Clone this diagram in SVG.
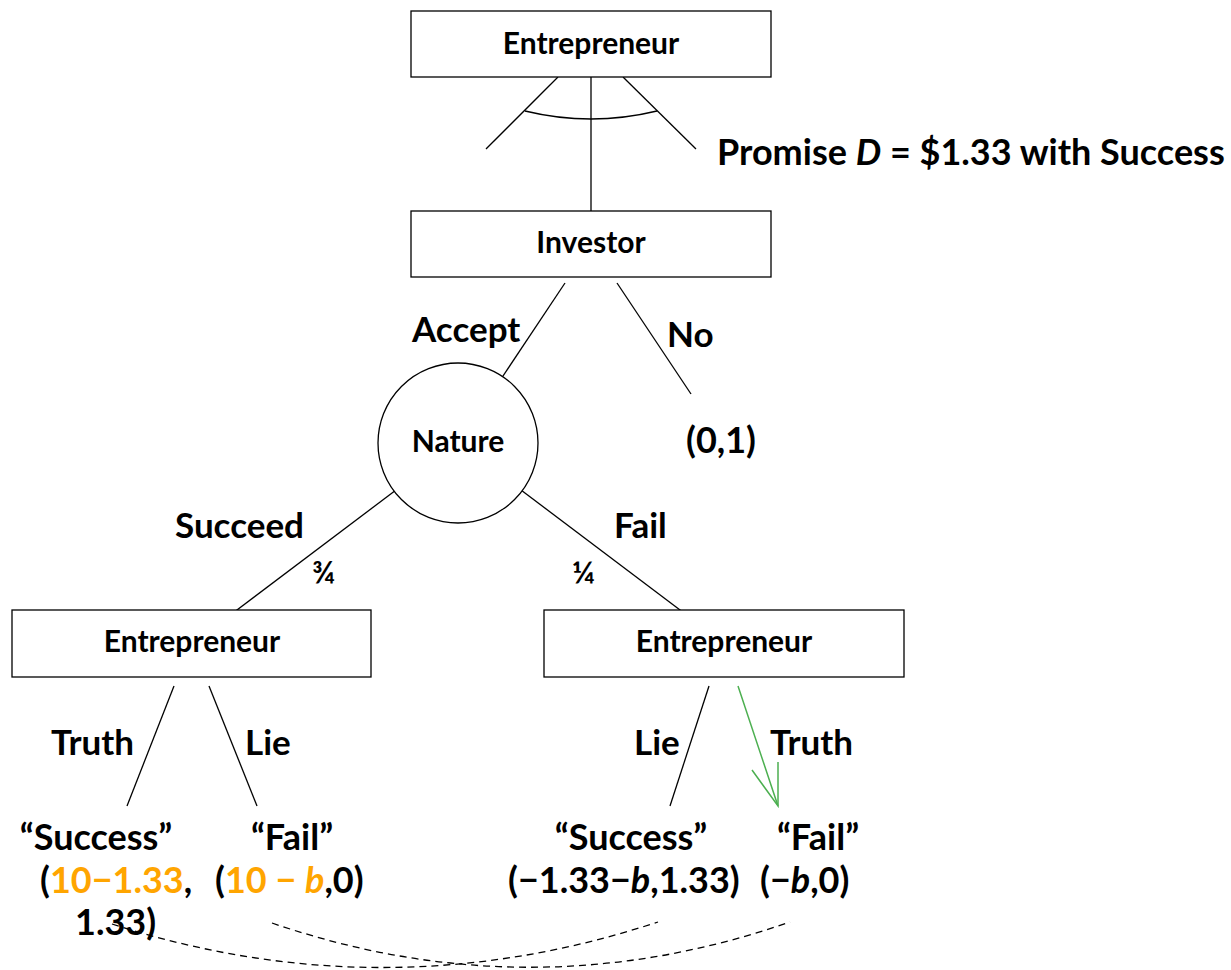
<svg xmlns="http://www.w3.org/2000/svg" width="1231" height="970" viewBox="0 0 1231 970">
<style>
text{font-family:Lato,"Open Sans","Liberation Sans",sans-serif;font-weight:bold;fill:#000}
.box{fill:#fff;stroke:#000;stroke-width:1.3}
.ln{stroke:#000;stroke-width:1.3;fill:none}
.dash{stroke:#000;stroke-width:1.3;fill:none;stroke-dasharray:7,5}
.n{font-size:30px;text-anchor:middle}
.lab{font-size:35px}
.pay{font-size:36px}
.or{fill:#FFA500}
.it{font-style:italic}
.gr{stroke:#4CAF50;stroke-width:1.5;fill:none}
</style>
<rect width="1231" height="970" fill="#fff"/>
<g id="connectors">
<line class="ln" x1="558" y1="77" x2="486" y2="149"/>
<line class="ln" x1="591" y1="77" x2="591" y2="211"/>
<line class="ln" x1="623" y1="77" x2="696" y2="149"/>
<path class="ln" d="M525 111 Q591 127 657 111"/>
<line class="ln" x1="565" y1="283" x2="499" y2="382"/>
<line class="ln" x1="617" y1="283" x2="691" y2="394"/>
<line class="ln" x1="400" y1="487" x2="229" y2="616"/>
<line class="ln" x1="517" y1="487" x2="688" y2="616"/>
<line class="ln" x1="174" y1="686" x2="127" y2="806"/>
<line class="ln" x1="209" y1="686" x2="257" y2="806"/>
<line class="ln" x1="709" y1="686" x2="670" y2="806"/>
<line class="gr" x1="738" y1="686" x2="778" y2="806"/>
<polyline class="gr" points="778,762 778,806 752,770"/>
<path class="dash" d="M112 924 Q385 1012 658 922"/>
<path class="dash" d="M272 923 Q531 1012 790 922"/>
</g>
<g id="n-entrepreneur-top">
<rect class="box" x="411" y="11" width="360" height="66"/>
<text class="n" x="591" y="54">Entrepreneur</text>
</g>
<g id="n-promise">
<text x="717" y="165" style="font-size:36px">Promise <tspan class="it">D</tspan> = $1.33 with Success</text>
</g>
<g id="n-investor">
<rect class="box" x="411" y="211" width="360" height="66"/>
<text class="n" x="591" y="253">Investor</text>
</g>
<g id="l-accept"><text class="lab" x="412" y="342">Accept</text></g>
<g id="l-no"><text class="lab" x="667" y="347">No</text></g>
<g id="n-nature">
<circle class="box" cx="458" cy="443" r="80"/>
<text class="n" x="458" y="452">Nature</text>
</g>
<g id="n-payoff-no"><text class="pay" x="686" y="453">(0,1)</text></g>
<g id="l-succeed"><text class="lab" x="175" y="538">Succeed</text></g>
<g id="l-fail"><text class="lab" x="614" y="538">Fail</text></g>
<g id="l-p34"><text x="312" y="583" style="font-size:31px">¾</text></g>
<g id="l-p14"><text x="572" y="583" style="font-size:31px">¼</text></g>
<g id="n-entrepreneur-left">
<rect class="box" x="12" y="610" width="359" height="67"/>
<text class="n" x="192" y="652">Entrepreneur</text>
</g>
<g id="n-entrepreneur-right">
<rect class="box" x="544" y="610" width="360" height="67"/>
<text class="n" x="724" y="652">Entrepreneur</text>
</g>
<g id="l-truth-left"><text class="lab" x="51" y="755">Truth</text></g>
<g id="l-lie-left"><text class="lab" x="245" y="755">Lie</text></g>
<g id="l-lie-right"><text class="lab" x="634" y="755">Lie</text></g>
<g id="l-truth-right"><text class="lab" x="770" y="755">Truth</text></g>
<g id="n-leaf-1">
<text class="pay" x="96" y="850" text-anchor="middle">“Success”</text>
<text class="pay" x="40" y="893">(<tspan class="or">10−1.33</tspan>,</text>
<text class="pay" x="75" y="935">1.33)</text>
</g>
<g id="n-leaf-2">
<text class="pay" x="292" y="850" text-anchor="middle">“Fail”</text>
<text class="pay" x="215" y="893">(<tspan class="or">10 − </tspan><tspan class="or it">b</tspan>,0)</text>
</g>
<g id="n-leaf-3">
<text class="pay" x="631" y="850" text-anchor="middle">“Success”</text>
<text class="pay" x="508" y="893">(−1.33−<tspan class="it">b</tspan>,1.33)</text>
</g>
<g id="n-leaf-4">
<text class="pay" x="818" y="850" text-anchor="middle">“Fail”</text>
<text class="pay" x="760" y="893">(−<tspan class="it">b</tspan>,0)</text>
</g>
</svg>
